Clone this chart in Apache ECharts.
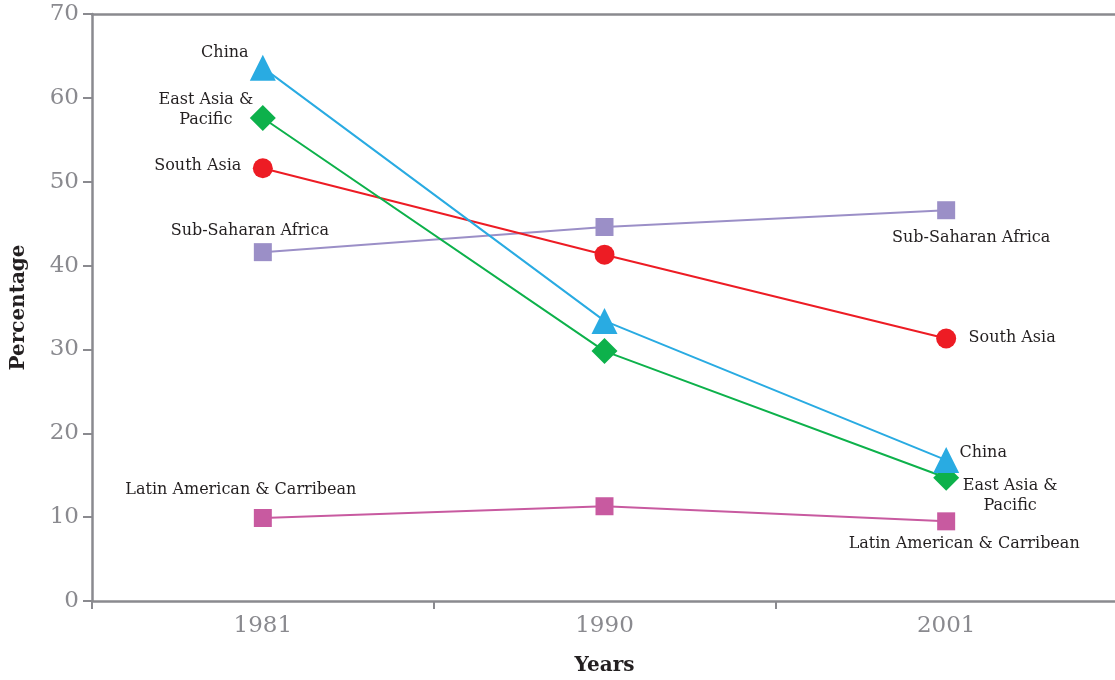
<!DOCTYPE html>
<html><head><meta charset="utf-8">
<script src="https://cdn.jsdelivr.net/npm/echarts@6/dist/echarts.min.js"></script>
<style>html,body{margin:0;padding:0;background:#fff;overflow:hidden}#c{width:1115px;height:680px}</style>
</head><body><div id="c"></div>
<script>
const years = ['1981', '1990', '2001'];
const yTicks = [0, 10, 20, 30, 40, 50, 60, 70];
const china = [63.6, 33.4, 16.8];
const eastAsia = [57.6, 29.8, 14.7];
const southAsia = [51.6, 41.3, 31.3];
const subSaharan = [41.6, 44.6, 46.6];
const latinAmerica = [9.9, 11.3, 9.5];

const FONT = 'DejaVu Serif';
const lblBase = {show: true, position: 'inside', align: 'center', verticalAlign: 'middle',
  fontFamily: FONT, fontSize: 16, color: '#231f20', lineHeight: 20};

function pts(vals, labels) {
  return vals.map((v, i) => {
    const d = {value: v};
    if (labels[i]) d.label = Object.assign({}, lblBase, labels[i]);
    else d.label = {show: false};
    return d;
  });
}
function ser(name, vals, color, symbol, size, labels) {
  return {name, type: 'line', data: pts(vals, labels), symbol, symbolSize: size,
    lineStyle: {color, width: 2}, itemStyle: {color}, z: 3};
}

const chart = echarts.init(document.getElementById('c'), null, {renderer: 'canvas'});
chart.setOption({
  animation: false,
  grid: {left: 92, top: 14, right: -2, bottom: 79, containLabel: false, outerBoundsMode: 'none'},
  xAxis: [{
    type: 'category', data: years, boundaryGap: true,
    axisLine: {lineStyle: {color: '#8a8a8f', width: 2.5}},
    axisTick: {show: true, length: 8, lineStyle: {color: '#8a8a8f', width: 2}},
    axisLabel: {fontFamily: FONT, fontSize: 23, color: '#8a8a8f', margin: 14},
    name: 'Years', nameLocation: 'middle', nameGap: 55,
    nameTextStyle: {fontFamily: FONT, fontWeight: 'bold', fontSize: 20, color: '#231f20'}
  }, {
    type: 'category', data: years, position: 'top', boundaryGap: true,
    axisLine: {show: true, lineStyle: {color: '#8a8a8f', width: 2.5}},
    axisTick: {show: false}, axisLabel: {show: false}
  }],
  yAxis: {
    type: 'value', min: yTicks[0], max: yTicks[yTicks.length - 1], interval: 10,
    axisLine: {show: true, lineStyle: {color: '#8a8a8f', width: 2.5}},
    axisTick: {show: true, length: 9, lineStyle: {color: '#8a8a8f', width: 2}},
    splitLine: {show: false},
    axisLabel: {fontFamily: FONT, fontSize: 23, color: '#8a8a8f', margin: 13},
    name: 'Percentage', nameLocation: 'middle', nameGap: 63, nameRotate: 90,
    nameTextStyle: {fontFamily: FONT, fontWeight: 'bold', fontSize: 20, color: '#231f20'}
  },
  series: [
    ser('Sub-Saharan Africa', subSaharan, '#9b8fc7', 'rect', 18, [
      {formatter: 'Sub-Saharan Africa', offset: [-13, -21]}, null,
      {formatter: 'Sub-Saharan Africa', offset: [25, 28]}]),
    ser('South Asia', southAsia, '#ed1c24', 'circle', 20, [
      {formatter: 'South Asia', offset: [-65, -2]}, null,
      {formatter: 'South Asia', offset: [66, -1]}]),
    ser('Latin American & Carribean', latinAmerica, '#c85aa0', 'rect', 18, [
      {formatter: 'Latin American & Carribean', offset: [-22, -28]}, null,
      {formatter: 'Latin American & Carribean', offset: [18, 23]}]),
    ser('East Asia & Pacific', eastAsia, '#0db14b', 'diamond', 26, [
      {formatter: 'East Asia &\nPacific', offset: [-57, -8]}, null,
      {formatter: 'East Asia &\nPacific', offset: [64, 18]}]),
    ser('China', china, '#29abe2', 'triangle', 26, [
      {formatter: 'China', offset: [-38, -15]}, null,
      {formatter: 'China', offset: [37, -7]}])
  ]
});
</script></body></html>
